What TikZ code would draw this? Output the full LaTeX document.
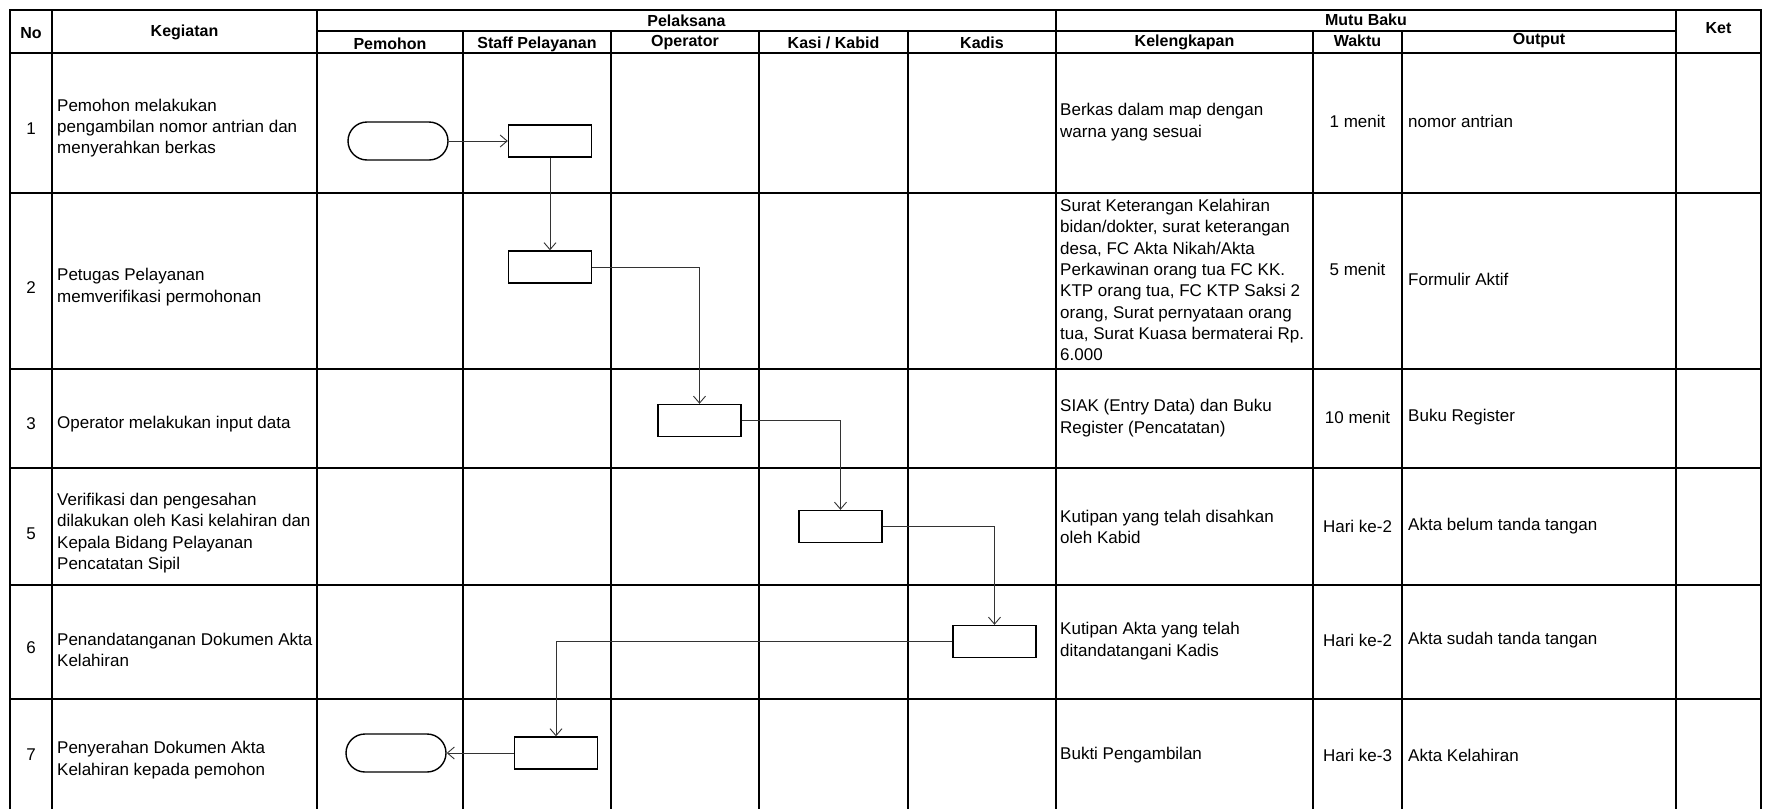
\documentclass[tikz,border=0pt]{standalone}
\usepackage{fontspec}
\setmainfont{Liberation Sans}
\usetikzlibrary{arrows.meta}
\begin{document}
\begin{tikzpicture}[x=1pt,y=-1pt,
  hdrline/.style={line width=2.6pt, line cap=rect},
  gridline/.style={line width=1.5pt},
  hdr/.style={font=\fontsize{16}{19}\selectfont\bfseries, inner sep=0pt},
  num/.style={font=\fontsize{17}{21}\selectfont, inner sep=0pt},
  cell/.style={font=\fontsize{17}{21.3}\selectfont, align=left, anchor=west, inner sep=0pt},
  waktu/.style={font=\fontsize{17}{21}\selectfont, inner sep=0pt},
  term/.style={draw, line width=1.4pt, rounded corners=19pt, minimum width=100pt, minimum height=38pt, inner sep=0pt},
  proc/.style={draw, line width=1.4pt, minimum width=83pt, minimum height=32pt, inner sep=0pt},
  flow/.style={line width=0.9pt, draw=black!80, -{Straight Barb[length=7pt,width=12pt,line width=0.9pt]}}
]
\useasboundingbox (0,0) rectangle (1769,809);

% body grid
\foreach \x in {10,52,317,463,611,759,908,1056,1313,1402,1676,1761}
  \draw[gridline] (\x,53) -- (\x,809);
\foreach \y in {193,369,468,585,699}
  \draw[gridline] (10,\y) -- (1761,\y);

% header grid
\draw[hdrline] (10,10) rectangle (1761,53);
\foreach \x in {52,317,1056,1676}
  \draw[hdrline] (\x,10) -- (\x,53);
\draw[hdrline] (317,31) -- (1676,31);
\foreach \x in {463,611,759,908,1313,1402}
  \draw[hdrline] (\x,31) -- (\x,53);

% header labels
\node[hdr] (hNo)   at (31,33)     {No};
\node[hdr] (hKeg)  at (184.5,32)  {Kegiatan};
\node[hdr] (hPel)  at (686.5,21)  {Pelaksana};
\node[hdr] (hMutu) at (1366,20)   {Mutu Baku};
\node[hdr] (hKet)  at (1718.5,28) {Ket};
\node[hdr] (hPem)  at (390,44)    {Pemohon};
\node[hdr] (hStf)  at (537,44)    {Staff Pelayanan};
\node[hdr] (hOpr)  at (685,43)    {Operator};
\node[hdr] (hKasi) at (833.5,43)  {Kasi / Kabid};
\node[hdr] (hKds)  at (982,43)    {Kadis};
\node[hdr] (hKel)  at (1184.5,42) {Kelengkapan};
\node[hdr] (hWkt)  at (1357.5,41) {Waktu};
\node[hdr] (hOut)  at (1539,41)   {Output};

% row numbers
\node[num] (n1) at (31,129) {1};
\node[num] (n2) at (31,288) {2};
\node[num] (n3) at (31,424) {3};
\node[num] (n5) at (31,534) {5};
\node[num] (n6) at (31,648) {6};
\node[num] (n7) at (31,755) {7};

% activities
\node[cell] (k1) at (57,128) {Pemohon melakukan\\pengambilan nomor antrian dan\\menyerahkan berkas};
\node[cell] (k2) at (57,287) {Petugas Pelayanan\\memverifikasi permohonan};
\node[cell] (k3) at (57,424) {Operator melakukan input data};
\node[cell] (k5) at (57,533) {Verifikasi dan pengesahan\\dilakukan oleh Kasi kelahiran dan\\Kepala Bidang Pelayanan\\Pencatatan Sipil};
\node[cell] (k6) at (57,650) {Penandatanganan Dokumen Akta\\Kelahiran};
\node[cell] (k7) at (57,760) {Penyerahan Dokumen Akta\\Kelahiran kepada pemohon};

% requirements
\node[cell] (l1) at (1060,122) {Berkas dalam map dengan\\warna yang sesuai};
\node[cell] (l2) at (1060,280) {Surat Keterangan Kelahiran\\bidan/dokter, surat keterangan\\desa, FC Akta Nikah/Akta\\Perkawinan orang tua FC KK.\\KTP orang tua, FC KTP Saksi 2\\orang, Surat pernyataan orang\\tua, Surat Kuasa bermaterai Rp.\\6.000};
\node[cell] (l3) at (1060,418) {SIAK (Entry Data) dan Buku\\Register (Pencatatan)};
\node[cell] (l5) at (1060,527) {Kutipan yang telah disahkan\\oleh Kabid};
\node[cell] (l6) at (1060,641) {Kutipan Akta yang telah\\ditandatangani Kadis};
\node[cell] (l7) at (1060,755) {Bukti Pengambilan};

% time
\node[waktu] (w1) at (1357.5,121) {1 menit};
\node[waktu] (w2) at (1357.5,269) {5 menit};
\node[waktu] (w3) at (1357.5,417) {10 menit};
\node[waktu] (w5) at (1357.5,526) {Hari ke-2};
\node[waktu] (w6) at (1357.5,640) {Hari ke-2};
\node[waktu] (w7) at (1357.5,755) {Hari ke-3};

% output
\node[cell] (o1) at (1408,121) {nomor antrian};
\node[cell] (o2) at (1408,279) {Formulir Aktif};
\node[cell] (o3) at (1408,417) {Buku Register};
\node[cell] (o5) at (1408,526) {Akta belum tanda tangan};
\node[cell] (o6) at (1408,640) {Akta sudah tanda tangan};
\node[cell] (o7) at (1408,755) {Akta Kelahiran};

% flow shapes
\node[term] (t1) at (398,141)   {};
\node[proc] (s1) at (550,141)   {};
\node[proc] (s2) at (550,267)   {};
\node[proc] (op) at (699.5,420.5) {};
\node[proc] (ks) at (840.5,526.5) {};
\node[proc] (kd) at (994.5,641.5) {};
\node[proc] (s3) at (556,753)   {};
\node[term] (t2) at (396,753)   {};

% flow connectors
\draw[flow] (t1.east) -- (s1.west);
\draw[flow] (s1.south) -- (s2.north);
\draw[flow] (s2.east) -| (op.north);
\draw[flow] (op.east) -| (ks.north);
\draw[flow] (ks.east) -| (kd.north);
\draw[flow] (kd.west) -| (s3.north);
\draw[flow] (s3.west) -- (t2.east);
\end{tikzpicture}
\end{document}
